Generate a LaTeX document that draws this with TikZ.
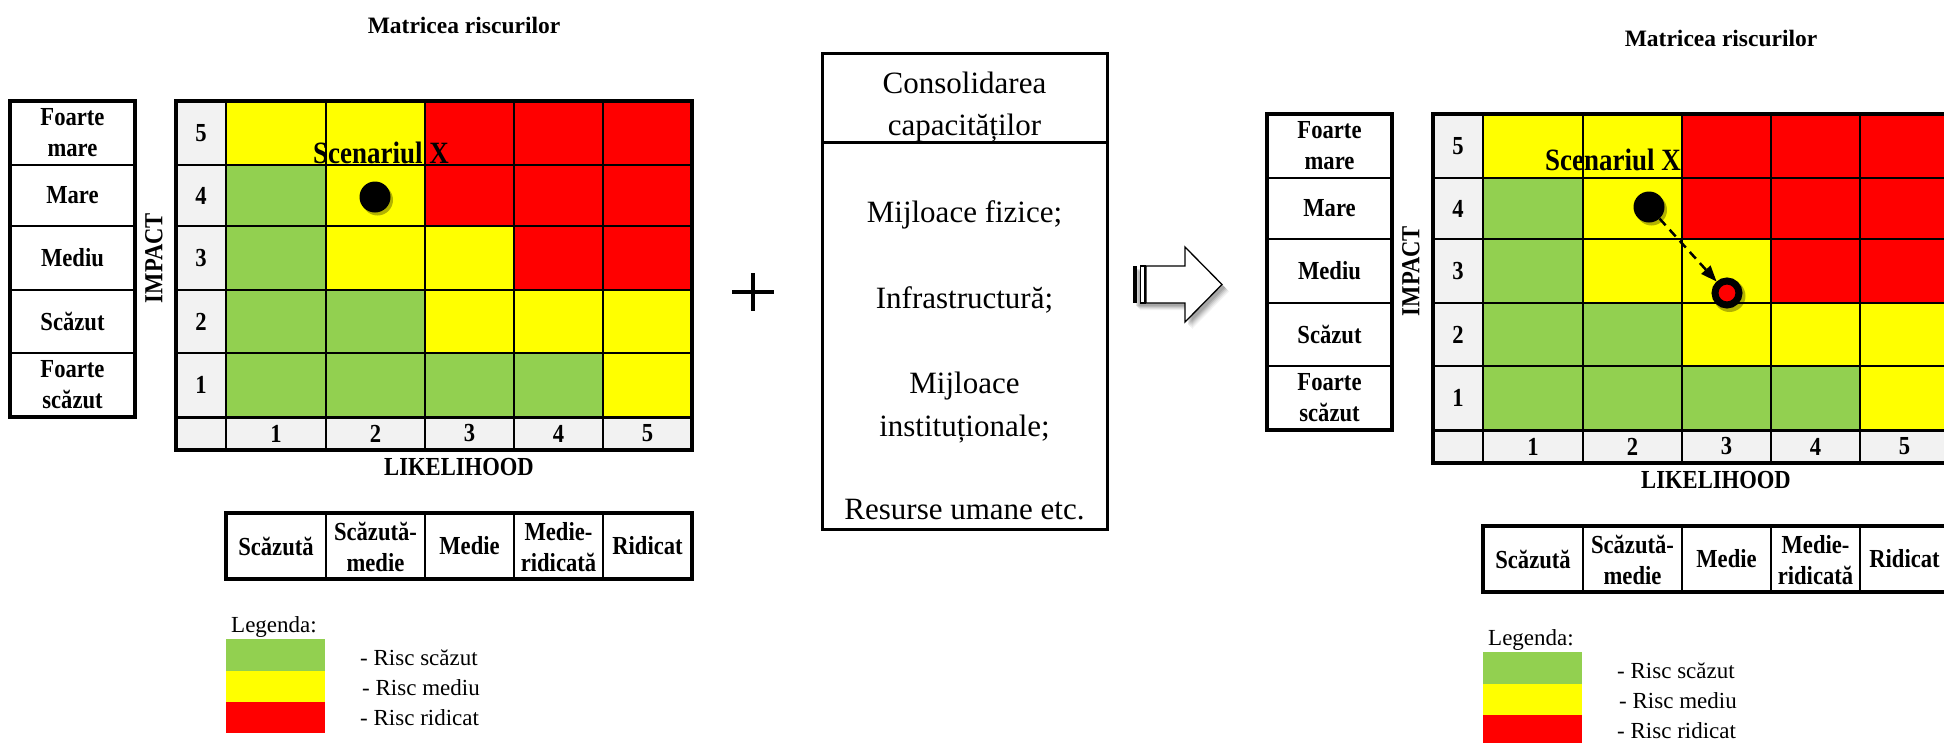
\documentclass[tikz,border=0pt]{standalone}
\usepackage{fontspec}
\setmainfont{Liberation Serif}
\newfontfamily\condserif[FakeStretch=0.87]{Liberation Serif}
\usetikzlibrary{arrows.meta}
\definecolor{rgreen}{HTML}{92D050}
\definecolor{ryellow}{HTML}{FFFF00}
\definecolor{rred}{HTML}{FF0000}
\definecolor{rgray}{HTML}{F2F2F2}

\newcommand\riskpanel[1]{%
  \node[ttl] (#1title) at (464,25) {Matricea riscurilor};
  % labels table
  \foreach \yy in {165,226,290,353} \draw[gridline] (10,\yy) -- (135,\yy);
  \draw[outerline] (10,101) rectangle (135,417);
  \node[lab] (#1l5) at (72.5,133) {Foarte\\mare};
  \node[lab] (#1l4) at (72.5,195.5) {Mare};
  \node[lab] (#1l3) at (72.5,258) {Mediu};
  \node[lab] (#1l2) at (72.5,321.5) {Scăzut};
  \node[lab] (#1l1) at (72.5,385) {Foarte\\scăzut};
  % matrix cells
  \foreach \ya/\yb/\ca/\cb/\cc/\cd/\ce in {
    101/165/ryellow/ryellow/rred/rred/rred,
    165/226/rgreen/ryellow/rred/rred/rred,
    226/290/rgreen/ryellow/ryellow/rred/rred,
    290/353/rgreen/rgreen/ryellow/ryellow/ryellow,
    353/417/rgreen/rgreen/rgreen/rgreen/ryellow}{
    \fill[\ca] (226,\ya) rectangle (326,\yb);
    \fill[\cb] (326,\ya) rectangle (425,\yb);
    \fill[\cc] (425,\ya) rectangle (514,\yb);
    \fill[\cd] (514,\ya) rectangle (603,\yb);
    \fill[\ce] (603,\ya) rectangle (692,\yb);
  }
  \fill[rgray] (176,101) rectangle (226,450);
  \fill[rgray] (226,417) rectangle (692,450);
  \foreach \xx in {326,425,514,603} \draw[gridline] (\xx,101) -- (\xx,450);
  \foreach \yy in {165,226,290,353} \draw[gridline] (176,\yy) -- (692,\yy);
  \draw[line width=2.2pt] (226,101) -- (226,450);
  \draw[line width=3pt] (176,417) -- (692,417);
  \draw[outerline] (176,101) rectangle (692,450);
  \node[num] (#1r5) at (201,133) {5};
  \node[num] (#1r4) at (201,195.5) {4};
  \node[num] (#1r3) at (201,258) {3};
  \node[num] (#1r2) at (201,321.5) {2};
  \node[num] (#1r1) at (201,385) {1};
  \node[num] (#1c1) at (276,433.5) {1};
  \node[num] (#1c2) at (375.5,433.5) {2};
  \node[num] (#1c3) at (469.5,433.5) {3};
  \node[num] (#1c4) at (558.5,433.5) {4};
  \node[num] (#1c5) at (647.5,433.5) {5};
  \node[lab, rotate=90] (#1impact) at (154,258) {IMPACT};
  \node[lab] (#1likeli) at (459,467) {LIKELIHOOD};
  % level table
  \foreach \xx in {326,425,514,603} \draw[gridline] (\xx,513) -- (\xx,579);
  \draw[outerline] (226,513) rectangle (692,579);
  \node[lab] (#1b1) at (276,546) {Scăzută};
  \node[lab] (#1b2) at (375.5,547) {Scăzută-\\medie};
  \node[lab] (#1b3) at (469.5,546) {Medie};
  \node[lab] (#1b4) at (558.5,547) {Medie-\\ridicată};
  \node[lab] (#1b5) at (647.5,546) {Ridicat};
  % legend
  \node[leg] (#1legt) at (231,627) {Legenda:};
  \fill[rgreen] (226,639) rectangle (325,671);
  \fill[ryellow] (226,671) rectangle (325,702);
  \fill[rred] (226,702) rectangle (325,733);
  \node[leg] (#1leg1) at (360,658) {- Risc scăzut};
  \node[leg] (#1leg2) at (362,688) {- Risc mediu};
  \node[leg] (#1leg3) at (360,718) {- Risc ridicat};
}

\begin{document}
\begin{tikzpicture}[x=1pt,y=-1pt,
  lab/.style={font=\condserif\bfseries\fontsize{26}{31}\selectfont, align=center, inner sep=0pt},
  num/.style={font=\condserif\bfseries\fontsize{26}{28}\selectfont, inner sep=0pt},
  scen/.style={font=\condserif\bfseries\fontsize{31}{34}\selectfont, inner sep=0pt},
  ttl/.style={font=\bfseries\fontsize{23.5}{28}\selectfont, inner sep=0pt},
  leg/.style={font=\fontsize{23}{28}\selectfont, inner sep=0pt, anchor=west},
  boxtxt/.style={font=\fontsize{31}{36}\selectfont, inner sep=0pt, anchor=base},
  outerline/.style={line width=3.5pt},
  gridline/.style={line width=1.4pt},
  dot/.style={circle, fill=black, minimum size=31pt, inner sep=0pt},
  ring/.style={circle, draw=black, line width=7pt, fill=rred, minimum size=24pt, inner sep=0pt},
  dasharrow/.style={line width=2.5pt, dash pattern=on 9pt off 6pt, -{Triangle[length=16pt,width=12pt]}},
  shadowc/.style={fill=black, opacity=0.3},
]
\useasboundingbox (0,0) rectangle (1944,742);
\clip (0,0) rectangle (1944,742);
\fill[white] (0,0) rectangle (1944,742);

% left panel
\riskpanel{L}
\node[scen] (scenL) at (381,153) {Scenariul X};
\fill[shadowc] (377.5,200) circle (15.5);
\node[dot] (dotL) at (375,197) {};

% plus sign
\draw[line width=4pt] (732,292) -- (774,292);
\draw[line width=4pt] (753,273) -- (753,311);

% capacity box
\draw[line width=3pt] (822,53) rectangle (1107,529);
\draw[line width=3pt] (822,142) -- (1107,142);
\node[boxtxt] (cons1) at (964.5,93) {Consolidarea};
\node[boxtxt] (cons2) at (964.5,135) {capacităților};
\node[boxtxt] (it1) at (964.5,222) {Mijloace fizice;};
\node[boxtxt] (it2) at (964.5,308) {Infrastructură;};
\node[boxtxt] (it3a) at (964.5,393) {Mijloace};
\node[boxtxt] (it3b) at (964.5,436) {instituționale;};
\node[boxtxt] (it4) at (964.5,519) {Resurse umane etc.};

% block arrow with shadow
\foreach \o/\op in {7/0.05,6/0.06,5/0.08,4/0.1,3/0.1}{
  \fill[black, opacity=\op, shift={(\o,\o)}] (1133,266) -- (1185,266) -- (1185,247) -- (1222,284.5) -- (1185,322) -- (1185,303) -- (1133,303) -- cycle;
}
\draw[line width=1.3pt, fill=white] (1146,266) -- (1185,266) -- (1185,247) -- (1222,284.5) -- (1185,322) -- (1185,303) -- (1146,303) -- cycle;
\fill[black] (1133,266) rectangle (1137,303);
\draw[line width=1.3pt, fill=white] (1140.5,266) rectangle (1145,303);

% right panel
\begin{scope}[shift={(1257,13)}]
\riskpanel{R}
\end{scope}
\node[scen] (scenR) at (1613,160) {Scenariul X};
\fill[shadowc] (1651.5,210) circle (15.5);
\node[dot] (dotR) at (1649,207) {};
\fill[shadowc] (1729.5,296) circle (16);
\node[ring] (ringR) at (1727,293) {};
\draw[dasharrow] (dotR) -- (ringR);
\end{tikzpicture}
\end{document}
